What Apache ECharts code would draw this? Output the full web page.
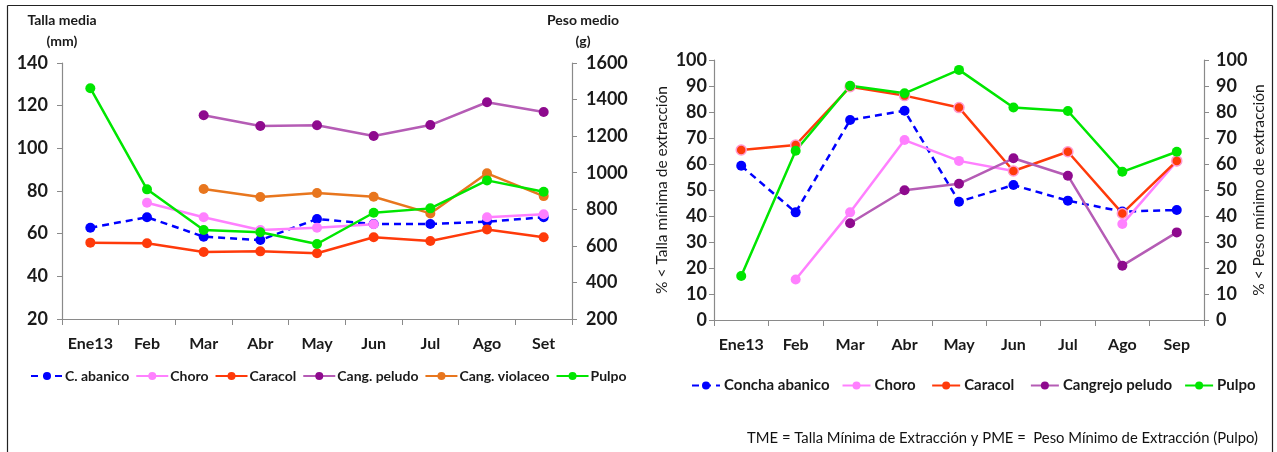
<!DOCTYPE html>
<html>
<head>
<meta charset="utf-8">
<script src="https://cdn.jsdelivr.net/npm/echarts@6/dist/echarts.min.js"></script>
<style>
html,body{margin:0;padding:0;background:#fff;}
#c{width:1277px;height:452px;}
</style>
</head>
<body>
<div id="c"></div>
<script>
// ---- Data ----
const months1 = ['Ene13','Feb','Mar','Abr','May','Jun','Jul','Ago','Set'];
const months2 = ['Ene13','Feb','Mar','Abr','May','Jun','Jul','Ago','Sep'];
const ticks1Left = {min:20, max:140, interval:20};
const ticks1Right = {min:200, max:1600, interval:200};
const ticks2 = {min:0, max:100, interval:10};

// Left chart: mean size (mm) and mean weight (g, Pulpo)
const abanicoMM  = [62.8, 67.7, 58.6, 57.0, 66.9, 64.5, 64.5, 65.6, 67.7];
const choroMM    = [null, 74.5, 67.7, 61.7, 62.8, 64.4, null, 67.7, 69.1];
const caracolMM  = [55.8, 55.5, 51.4, 51.7, 50.8, 58.3, 56.6, 62.0, 58.3];
const peludoMM   = [null, null, 115.5, 110.5, 110.8, 105.8, 110.9, 121.6, 117.0];
const violaceoMM = [null, null, 80.9, 77.2, 79.1, 77.3, 69.5, 88.3, 77.6];
const pulpoG     = [1462, 909, 687, 674, 610, 781, 805, 958, 896];

// Right chart: % below minimum size / weight
const abanicoPct = [59.3, 41.4, 76.9, 80.5, 45.5, 51.9, 45.9, 41.7, 42.3];
const choroPct   = [null, 15.6, 41.4, 69.2, 61.2, 57.3, null, 36.9, 61.0];
const caracolPct = [65.4, 67.3, 89.7, 86.3, 81.7, 57.3, 64.7, 41.0, 61.2];
const peludoPct  = [null, null, 37.2, 49.9, 52.4, 62.2, 55.5, 20.9, 33.7];
const pulpoPct   = [16.9, 65.1, 90.1, 87.2, 96.2, 81.7, 80.4, 57.0, 64.7];

// ---- Styles ----
const C = {
  abanico:'#0000ff', choro:'#ff80ff', caracol:'#ff3a0a',
  peludoLine:'#b55cb5', peludo:'#8e0a8e', violaceo:'#e8761e', pulpo:'#00e600'
};
const FONT = 'Lato';
const TXT = '#1a1a1a';
const AX = '#8a8a8a';

function mk(name, data, color, xi, yi, opts) {
  opts = opts || {};
  return {
    name, type:'line', data, xAxisIndex:xi, yAxisIndex:yi,
    symbol:'circle', symbolSize:10, connectNulls:false,
    lineStyle:{color:opts.line || color, width:2.5, type:opts.dash ? [7,5] : 'solid'},
    itemStyle:{color:color, borderColor:opts.border || color, borderWidth:opts.border ? 1.5 : 0},
    emphasis:{disabled:true}, animation:false
  };
}

function catAxis(grid, data) {
  return {
    type:'category', gridIndex:grid, data, boundaryGap:true,
    axisLine:{lineStyle:{color:AX, width:1.2}},
    axisTick:{show:true, inside:false, length:6, alignWithLabel:false, interval:0, lineStyle:{color:AX}},
    axisLabel:{interval:0, color:TXT, fontFamily:FONT, fontWeight:'bold', fontSize:16, margin:17}
  };
}
function valAxis(grid, t, pos, extra) {
  return Object.assign({
    type:'value', gridIndex:grid, position:pos, min:t.min, max:t.max, interval:t.interval,
    splitLine:{show:false},
    axisLine:{show:true, lineStyle:{color:AX, width:1.2}},
    axisTick:{show:true, inside:false, length:5, lineStyle:{color:AX}}
  }, extra || {});
}
const plain = v => String(v);

const chart = echarts.init(document.getElementById('c'), null, {renderer:'canvas'});
const option = {
  backgroundColor:'#ffffff',
  animation:false,
  grid:[
    {left:62, top:63, width:510, height:256},
    {left:714, top:60, width:490, height:260}
  ],
  xAxis:[catAxis(0, months1), catAxis(1, months2)],
  yAxis:[
    valAxis(0, ticks1Left, 'left', {
      axisLabel:{formatter:plain, color:TXT, fontFamily:FONT, fontWeight:'bold', fontSize:18, margin:14},
      name:'Talla media\n(mm)', nameLocation:'end', nameGap:11,
      nameTextStyle:{color:TXT, fontFamily:FONT, fontWeight:'bold', fontSize:14, lineHeight:21, align:'center'}
    }),
    valAxis(0, ticks1Right, 'right', {
      axisLabel:{formatter:plain, color:TXT, fontFamily:FONT, fontWeight:'bold', fontSize:18, margin:14},
      name:'Peso medio\n(g)', nameLocation:'end', nameGap:11,
      nameTextStyle:{color:TXT, fontFamily:FONT, fontWeight:'bold', fontSize:14, lineHeight:21, align:'center', padding:[0,0,0,22]}
    }),
    valAxis(1, ticks2, 'left', {
      axisLabel:{formatter:plain, color:TXT, fontFamily:FONT, fontWeight:'bold', fontSize:18, margin:7},
      name:'% < Talla mínima de extracción', nameLocation:'middle', nameRotate:90, nameGap:44,
      nameTextStyle:{color:TXT, fontFamily:FONT, fontSize:15.5}
    }),
    valAxis(1, ticks2, 'right', {
      axisLabel:{formatter:plain, color:TXT, fontFamily:FONT, fontWeight:'bold', fontSize:18, margin:12},
      name:'% < Peso mínimo de extracción', nameLocation:'middle', nameRotate:90, nameGap:43,
      nameTextStyle:{color:TXT, fontFamily:FONT, fontSize:15.5}
    })
  ],
  legend:[
    {
      left:25, top:364, orient:'horizontal', itemWidth:32, itemHeight:10, itemGap:6,
      textStyle:{color:TXT, fontFamily:FONT, fontWeight:'bold', fontSize:14, padding:[0,0,0,-3]},
      data:['C. abanico','Choro','Caracol','Cang. peludo','Cang. violaceo','Pulpo'],
      selectedMode:false
    },
    {
      left:686, top:373, orient:'horizontal', itemWidth:28, itemHeight:10, itemGap:12,
      textStyle:{color:TXT, fontFamily:FONT, fontWeight:'bold', fontSize:15, padding:[0,0,0,-1]},
      data:['Concha abanico','Choro ',{name:'Caracol ', itemStyle:{borderWidth:0}},'Cangrejo peludo','Pulpo '],
      selectedMode:false
    }
  ],
  series:[
    mk('C. abanico', abanicoMM, C.abanico, 0, 0, {dash:true}),
    mk('Choro', choroMM, C.choro, 0, 0),
    mk('Caracol', caracolMM, C.caracol, 0, 0),
    mk('Cang. peludo', peludoMM, C.peludo, 0, 0, {line:C.peludoLine}),
    mk('Cang. violaceo', violaceoMM, C.violaceo, 0, 0),
    mk('Pulpo', pulpoG, C.pulpo, 0, 1),

    mk('Concha abanico', abanicoPct, C.abanico, 1, 2, {dash:true}),
    mk('Choro ', choroPct, C.choro, 1, 2),
    mk('Caracol ', caracolPct, C.caracol, 1, 2, {border:'#ff9ad0'}),
    mk('Cangrejo peludo', peludoPct, C.peludo, 1, 2, {line:C.peludoLine}),
    mk('Pulpo ', pulpoPct, C.pulpo, 1, 3)
  ],
  graphic:[
    {type:'line', shape:{x1:7.5, y1:5.5, x2:1272.5, y2:5.5}, style:{stroke:'#222', lineWidth:1.2}, silent:true},
    {type:'line', shape:{x1:7.5, y1:5.5, x2:7.5, y2:452}, style:{stroke:'#222', lineWidth:1.2}, silent:true},
    {type:'line', shape:{x1:1272.5, y1:5.5, x2:1272.5, y2:452}, style:{stroke:'#222', lineWidth:1.2}, silent:true},
    {type:'text', right:19, top:431, silent:true,
     style:{text:'TME = Talla Mínima de Extracción y PME =  Peso Mínimo de Extracción (Pulpo)',
            fill:'#111', font:'14.8px Lato'}}
  ]
};
chart.setOption(option);
</script>
</body>
</html>
